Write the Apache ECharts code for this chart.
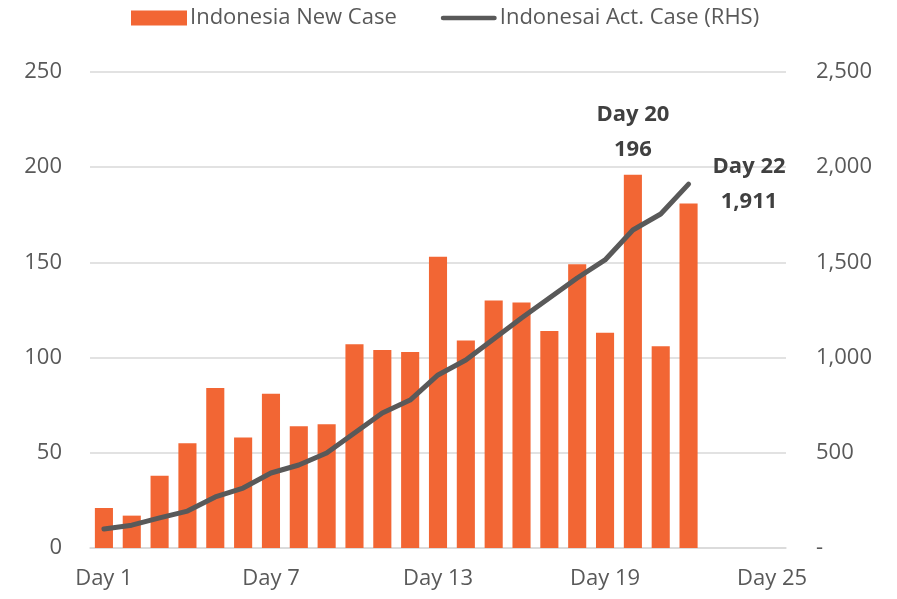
<!DOCTYPE html>
<html>
<head>
<meta charset="utf-8">
<script src="https://cdn.jsdelivr.net/npm/echarts@6/dist/echarts.min.js"></script>
<style>
html,body{margin:0;padding:0;background:#fff;}
#chart{width:897px;height:599px;}
</style>
</head>
<body>
<div id="chart"></div>
<script>
const categories = ['Day 1','Day 2','Day 3','Day 4','Day 5','Day 6','Day 7','Day 8','Day 9','Day 10','Day 11','Day 12','Day 13','Day 14','Day 15','Day 16','Day 17','Day 18','Day 19','Day 20','Day 21','Day 22','Day 23','Day 24','Day 25'];
const newCases = [21,17,38,55,84,58,81,64,65,107,104,103,153,109,130,129,114,149,113,196,106,181];
const activeCases = [100,120,158,194,268,315,394,436,499,604,709,777,909,987,1098,1208,1313,1418,1513,1670,1754,1911];
const leftTicks = [0,50,100,150,200,250];
const rightTicks = [0,500,1000,1500,2000,2500];

const FONT = '"Open Sans", "Noto Sans", sans-serif';
const TXT = '#595959';
const ORANGE = '#F26634';
const GREY = '#595959';

const barData = newCases.map((v, i) => {
  if (i === 19) {
    return {value: v, label: {show: true, position: 'top', distance: 8,
      formatter: categories[i] + '\n' + v, fontWeight: 'bold', fontSize: 22,
      lineHeight: 35, color: '#404040', fontFamily: FONT}};
  }
  return v;
});
const lineData = activeCases.map((v, i) => {
  if (i === activeCases.length - 1) {
    return {value: v, symbol: 'circle', symbolSize: 1,
      label: {show: true, position: 'right', distance: 60, align: 'center', offset: [0, 4],
      verticalAlign: 'middle', formatter: categories[i] + '\n' + v.toLocaleString('en-US'),
      fontWeight: 'bold', fontSize: 22, lineHeight: 35, color: '#404040', fontFamily: FONT}};
  }
  return v;
});

const chart = echarts.init(document.getElementById('chart'));
chart.setOption({
  animation: false,
  textStyle: {fontFamily: FONT},
  legend: {
    top: 2, left: 126, itemGap: 44,
    textStyle: {fontSize: 22, color: TXT, fontFamily: FONT, padding: [0,0,0,-2]},
    data: [
      {name: 'Indonesia New Case', icon: 'rect', itemStyle: {color: ORANGE}},
      {name: 'Indonesai Act. Case (RHS)', icon: 'path://M2.5,5 L57.5,5 A2.5,2.5 0 0 1 57.5,10 L2.5,10 A2.5,2.5 0 0 1 2.5,5 Z', itemStyle: {color: GREY}}
    ],
    itemWidth: 56, itemHeight: 15
  },
  grid: {left: 90, right: 111, top: 72, bottom: 51, containLabel: false},
  xAxis: {
    type: 'category', data: categories, boundaryGap: true,
    axisLine: {lineStyle: {color: '#d9d9d9', width: 1.5}},
    axisTick: {show: false},
    axisLabel: {interval: 5, color: TXT, fontSize: 22, fontFamily: FONT, margin: 20}
  },
  yAxis: [
    {type: 'value', min: leftTicks[0], max: leftTicks[leftTicks.length-1], interval: 50,
     axisLine: {show: false}, axisTick: {show: false},
     splitLine: {lineStyle: {color: '#d9d9d9', width: 1.5}},
     axisLabel: {color: TXT, fontSize: 22, fontFamily: FONT, margin: 28}},
    {type: 'value', min: rightTicks[0], max: rightTicks[rightTicks.length-1], interval: 500,
     axisLine: {show: false}, axisTick: {show: false}, splitLine: {show: false},
     axisLabel: {color: TXT, fontSize: 22, fontFamily: FONT, margin: 30, align: 'left',
       formatter: v => v === 0 ? '-' : v.toLocaleString('en-US')}}
  ],
  series: [
    {name: 'Indonesia New Case', type: 'bar', data: barData, yAxisIndex: 0,
     itemStyle: {color: ORANGE}, barCategoryGap: '35%'},
    {name: 'Indonesai Act. Case (RHS)', type: 'line', data: lineData, yAxisIndex: 1,
     symbol: 'none', showSymbol: true, labelLayout: {hideOverlap: false},
     lineStyle: {color: GREY, width: 5, cap: 'round', join: 'round'},
     itemStyle: {color: GREY}}
  ]
});
</script>
</body>
</html>
